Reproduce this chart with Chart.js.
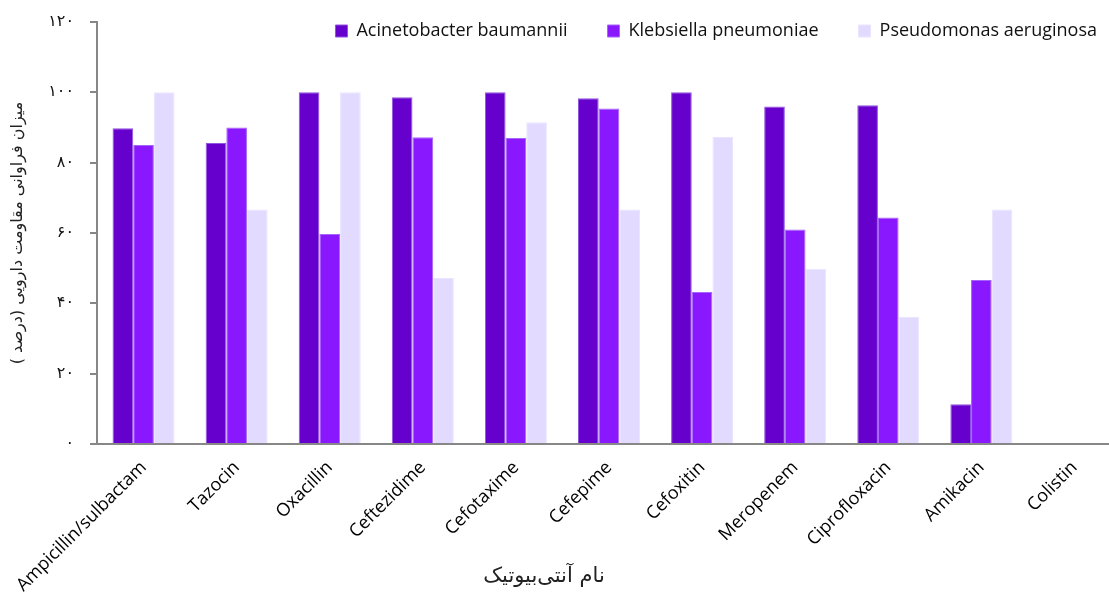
<!DOCTYPE html>
<html>
<head>
<meta charset="utf-8">
<script src="https://cdn.jsdelivr.net/npm/chart.js@4.4.1/dist/chart.umd.min.js"></script>
<style>
  html, body { margin: 0; padding: 0; background: #ffffff; }
  #wrap { width: 1109px; height: 599px; position: relative; }
</style>
</head>
<body>
<div id="wrap"><canvas id="c" width="1109" height="599"></canvas></div>
<script>
// Antibiotics on the horizontal axis
const categories = ['Ampicillin/sulbactam', 'Tazocin', 'Oxacillin', 'Ceftezidime', 'Cefotaxime',
  'Cefepime', 'Cefoxitin', 'Meropenem', 'Ciprofloxacin', 'Amikacin', 'Colistin'];

// Resistance rate (%) per organism
const acinetobacter = [89.8, 85.6, 100, 98.6, 100, 98.3, 100, 96.0, 96.3, 11.3, 0];
const klebsiella    = [85.0, 90.0, 59.7, 87.2, 87.0, 95.4, 43.2, 61.0, 64.4, 46.6, 0];
const pseudomonas   = [100, 66.7, 100, 47.2, 91.5, 66.7, 87.3, 49.8, 36.1, 66.7, 0];

const seriesNames = ['Acinetobacter baumannii', 'Klebsiella pneumoniae', 'Pseudomonas aeruginosa'];
const yTicks = [0, 20, 40, 60, 80, 100, 120];

const yTitle = 'میزان فراوانی مقاومت دارویی (درصد )';
const xTitle = 'نام آنتی‌بیوتیک';

const faDigits = ['۰','۱','۲','۳','۴','۵','۶','۷','۸','۹'];
const toFa = n => String(n).replace(/[0-9]/g, d => faDigits[+d]);

const axisGrey = '#878787';
const latin = '"Open Sans", Lato, sans-serif';
const persian = '"DejaVu Sans", sans-serif';

// Plot frame: the category axis runs slightly past the right edge of the canvas
const frame = { left: 97, top: 22, right: 1121, bottom: 444 };

// Axis title under the rotated category labels
const xTitlePlugin = {
  id: 'xTitle',
  afterDraw(chart) {
    const ctx = chart.ctx;
    ctx.save();
    ctx.font = '21px ' + persian;
    ctx.fillStyle = '#222';
    ctx.textAlign = 'center';
    ctx.textBaseline = 'middle';
    ctx.direction = 'rtl';
    ctx.fillText(xTitle, 544, 577);
    ctx.restore();
  }
};

// Fixes the plot frame and puts the legend row in the top band
const framePlacement = {
  id: 'framePlacement',
  afterLayout(chart) {
    const { x, y } = chart.scales;
    const h = chart.height;

    x.left = frame.left; x.right = frame.right; x.top = frame.bottom; x.bottom = h;
    x.width = x.right - x.left; x.height = x.bottom - x.top;
    x.configure();

    y.left = 0; y.right = frame.left; y.top = frame.top; y.bottom = frame.bottom;
    y.width = y.right - y.left; y.height = y.bottom - y.top;
    y.configure();

    const ca = chart.chartArea;
    ca.left = frame.left; ca.right = frame.right; ca.top = frame.top; ca.bottom = frame.bottom;
    ca.width = ca.right - ca.left; ca.height = ca.bottom - ca.top;

    const lg = chart.legend;
    if (lg) {
      lg.top = -18; lg.bottom = 60;
      lg.left = 0; lg.right = 1137;
    }
  }
};

new Chart(document.getElementById('c'), {
  type: 'bar',
  data: {
    labels: categories,
    datasets: [
      { label: seriesNames[0], data: acinetobacter, backgroundColor: '#6600CC', borderColor: '#8F55E0', borderWidth: 1 },
      { label: seriesNames[1], data: klebsiella,    backgroundColor: '#8A18FF', borderColor: '#A665FA', borderWidth: 1 },
      { label: seriesNames[2], data: pseudomonas,   backgroundColor: '#E3DBFF', borderColor: '#EAE4FF', borderWidth: 1 }
    ]
  },
  options: {
    responsive: false,
    animation: false,
    datasets: {
      bar: { categoryPercentage: 0.666, barPercentage: 1.0 }
    },
    layout: { padding: { top: 21, right: 0, left: 0, bottom: 0 } },
    plugins: {
      legend: {
        position: 'top',
        align: 'end',
        maxHeight: 1,
        labels: {
          boxWidth: 12,
          boxHeight: 12,
          padding: 40,
          color: '#111',
          font: { family: latin, size: 18 }
        }
      },
      tooltip: { enabled: false }
    },
    scales: {
      x: {
        grid: { display: false, drawTicks: false },
        border: { display: true, color: axisGrey, width: 2 },
        ticks: {
          autoSkip: false,
          maxRotation: 45,
          minRotation: 45,
          padding: 13,
          color: '#000',
          font: { family: latin, size: 18 }
        },
        afterFit(scale) { scale.height = 155; }
      },
      y: {
        min: 0,
        max: 120,
        afterBuildTicks(scale) { scale.ticks = yTicks.map(v => ({ value: v })); },
        grid: { display: true, drawOnChartArea: false, drawTicks: true, tickLength: 7, color: axisGrey, lineWidth: 2 },
        border: { display: true, color: axisGrey, width: 2 },
        ticks: {
          padding: 16,
          color: '#111',
          font: { family: persian, size: 16 },
          callback: v => toFa(v)
        },
        title: {
          display: true,
          text: yTitle,
          color: '#222',
          font: { family: persian, size: 16 },
          padding: { top: 8, bottom: 0 }
        },
        afterFit(scale) { scale.width = 97; }
      }
    }
  },
  plugins: [xTitlePlugin, framePlacement]
});
</script>
</body>
</html>
